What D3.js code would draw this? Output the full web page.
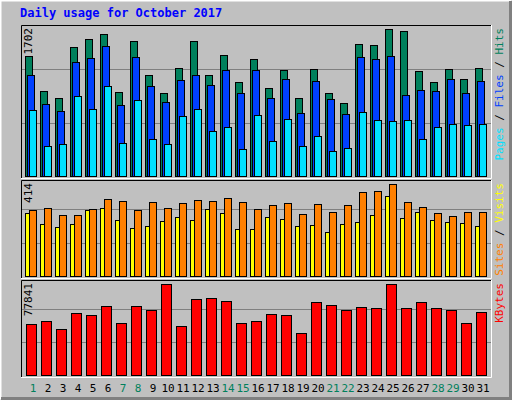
<!DOCTYPE html>
<html><head><meta charset="utf-8">
<script src="https://cdn.jsdelivr.net/npm/d3@7"></script>
<style>body{margin:0;background:#fff}svg{display:block}</style>
</head><body>
<script>
const days = d3.range(1, 32);
const weekends = [1,7,8,14,15,21,22,28,29];
const hits = [1390,986,905,1494,1587,1644,974,1563,1171,963,1252,1563,1171,1402,1090,1356,1021,1228,905,1240,963,847,1529,1517,1702,1679,1217,1090,1240,1124,1252];
const files = [1171,836,755,1321,1367,1506,824,1379,1044,859,1113,1171,1055,1228,963,1228,905,1124,732,1101,893,720,1379,1356,1390,940,997,986,1124,963,1101];
const pages = [766,350,374,928,778,1044,385,882,431,374,697,778,524,570,316,709,408,662,350,466,293,327,743,651,639,651,431,570,605,593,605];
const sites = [284,234,221,234,297,306,252,216,225,248,266,252,302,284,212,212,266,257,225,230,198,234,243,275,360,261,288,252,243,239,225];
const visits = [297,306,275,275,302,347,338,297,333,306,329,342,338,351,333,302,320,329,279,324,288,320,378,383,414,333,311,284,270,288,288];
const kbytes = [43880,46430,39630,53220,51520,59170,44730,59170,55770,77841,42180,65110,65960,63410,44730,46430,52370,51520,36240,62560,60020,55770,58320,57470,77841,57470,62560,57470,55770,44730,54070];
const title = "Daily usage for October 2017";

const W=512,H=400;
const svg=d3.select("body").append("svg").attr("width",W).attr("height",H);
svg.append("rect").attr("width",W).attr("height",H).attr("fill","#C0C0C0");
// bevel
svg.append("path").attr("d",`M0.5,${H-0.5}V0.5H${W-0.5}`).attr("stroke","#fff").attr("stroke-width",2).attr("fill","none");
svg.append("path").attr("d",`M1,${H-1.5}H${W-1.5}V1`).attr("stroke","#808080").attr("stroke-width",3).attr("fill","none");
svg.append("text").attr("x",20).attr("y",17).text(title)
  .attr("font-family","'DejaVu Sans Mono',monospace").attr("font-weight","bold").attr("font-size",12).attr("fill","#0000FF");

const x = d3.scaleBand().domain(days).range([25,490]).paddingInner(0).paddingOuter(0);
const mono="'DejaVu Sans Mono',monospace";

function panel(top, base, maxY, maxVal, series, labels){
  const y=d3.scaleLinear().domain([0,maxVal]).range([base,maxY]);
  const g=svg.append("g");
  // frame
  g.append("path").attr("d",`M21.5,${base+2}V${top+0.5}H491.5`).attr("stroke","#000").attr("fill","none");
  g.append("path").attr("d",`M21,${base+2.5}H491.5V${top}`).attr("stroke","#fff").attr("fill","none");
  const gs=(base-maxY)/2.75;
  [1,2].forEach(k=>g.append("line").attr("x1",22).attr("x2",491).attr("y1",Math.round(base-gs*k)+0.5).attr("y2",Math.round(base-gs*k)+0.5).attr("stroke","#808080"));
  series.forEach(s=>{
    g.selectAll(null).data(s.data).join("rect")
      .attr("x",(d,i)=>x(days[i])+s.off+0.5).attr("width",s.w)
      .attr("y",d=>Math.round(y(d))+0.5).attr("height",d=>base-Math.round(y(d)))
      .attr("fill",s.color).attr("stroke","#000").attr("stroke-width",1);
  });
  svg.append("text").attr("transform",`translate(32,${top+3}) rotate(-90)`).attr("text-anchor","end")
    .attr("font-family",mono).attr("font-size",11).attr("fill","#000").text(maxVal);
  const t=svg.append("text").attr("transform",`translate(503,${top+3}) rotate(-90)`).attr("text-anchor","end")
    .attr("font-family",mono).attr("font-size",11);
  labels.forEach((l,i)=>t.append("tspan").attr("fill",l[1]).text(l[0]));
}
panel(25,176,29,1702,[
  {data:hits,off:0,w:7,color:"#00805C"},
  {data:files,off:2,w:7,color:"#0040FF"},
  {data:pages,off:4,w:7,color:"#00E0FF"}],
  [["Pages","#00E0FF"],[" / ","#000"],["Files","#0040FF"],[" / ","#000"],["Hits","#00805C"]]);
panel(180,276,184,414,[
  {data:sites,off:0,w:4,color:"#FFFF00"},
  {data:visits,off:4,w:7,color:"#FF8000"}],
  [["Sites","#FF8000"],[" / ","#000"],["Visits","#FFFF00"]]);
panel(280,375,284,77841,[
  {data:kbytes,off:1,w:10,color:"#FF0000"}],
  [["KBytes","#FF0000"]]);

svg.selectAll(".dl").data(days).join("text")
  .attr("x",d=>x(d)+8).attr("y",392).attr("text-anchor","middle")
  .attr("font-family",mono).attr("font-size",11)
  .attr("fill",d=>weekends.includes(d)?"#00805C":"#000").text(d=>d);
</script>
</body></html>
